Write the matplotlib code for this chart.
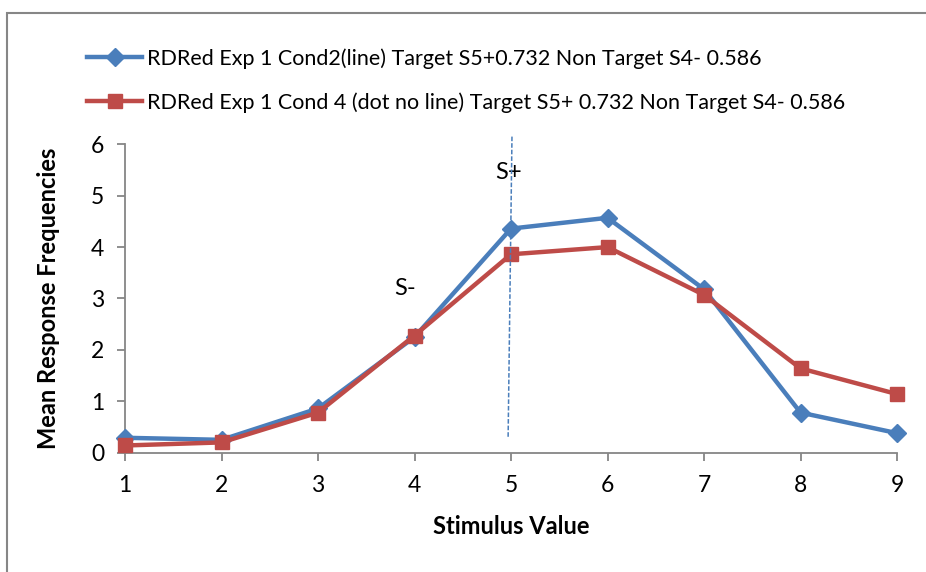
import numpy as np
import matplotlib.pyplot as plt
from matplotlib.patches import Rectangle

stimulus = [1, 2, 3, 4, 5, 6, 7, 8, 9]
cond2_line = [0.29, 0.25, 0.86, 2.25, 4.36, 4.57, 3.18, 0.78, 0.38]
cond4_dot = [0.14, 0.20, 0.78, 2.28, 3.86, 4.00, 3.07, 1.64, 1.14]
label_cond2 = "RDRed Exp 1 Cond2(line) Target S5+0.732 Non Target S4- 0.586"
label_cond4 = "RDRed Exp 1 Cond 4 (dot no line) Target S5+ 0.732 Non Target S4- 0.586"
yticks = [0, 1, 2, 3, 4, 5, 6]

plt.rcParams['font.family'] = ['Lato', 'DejaVu Sans']
blue = '#4a7ebb'
red = '#be4b48'
grey = '#868686'

fig = plt.figure(figsize=(9.26, 5.72), dpi=100)
ax = fig.add_axes([0.135, 0.2086, 0.8337, 0.5391])

ax.plot(stimulus, cond2_line, color=blue, lw=3.2, marker='D', ms=9,
        label=label_cond2, clip_on=False, zorder=3)
ax.plot(stimulus, cond4_dot, color=red, lw=3.2, marker='s', ms=10,
        label=label_cond4, clip_on=False, zorder=4)

# target line at S5+
ax.plot([5.01, 4.97], [6.15, 0.3], color=blue, lw=1.1, ls=(0, (3, 1.3)),
        clip_on=False, zorder=5)
ax.text(4.97, 5.46, 'S+', fontsize=17, ha='center', va='center')
ax.text(3.9, 3.2, 'S-', fontsize=17, ha='center', va='center')

ax.set_xlim(1, 9)
ax.set_ylim(0, 6)
ax.set_xticks(stimulus)
ax.set_yticks(yticks)
for s in ['top', 'right']:
    ax.spines[s].set_visible(False)
for s in ['left', 'bottom']:
    ax.spines[s].set_color(grey)
    ax.spines[s].set_linewidth(1.3)
ax.tick_params(axis='both', direction='out', length=6, width=1.3,
               color=grey, labelsize=16.5)
ax.tick_params(axis='x', pad=10)
ax.tick_params(axis='y', pad=9)
ax.set_xlabel('Stimulus Value', fontsize=17, fontweight='bold', labelpad=14)
ax.set_ylabel('Mean Response Frequencies', fontsize=17, fontweight='bold',
              labelpad=22)

ax.legend(loc='upper left', bbox_to_anchor=(0.085, 0.931),
          bbox_transform=fig.transFigure, frameon=False, fontsize=15.5,
          handlelength=2.55, handletextpad=0.2, labelspacing=1.1,
          borderaxespad=0)

fig.patches.append(Rectangle((7 / 926, -0.1), 1.1, 1 - 12.5 / 572 + 0.1,
                             transform=fig.transFigure, fill=False,
                             edgecolor=grey, lw=1.5))

fig.savefig('out.png', dpi=100)
